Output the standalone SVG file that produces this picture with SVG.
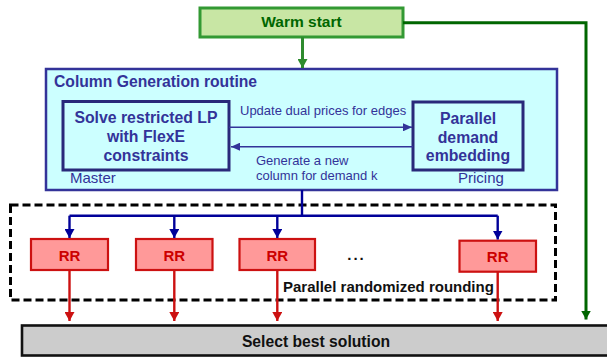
<svg xmlns="http://www.w3.org/2000/svg" width="607" height="358" viewBox="0 0 607 358">
  <style>
    text { font-family: "Liberation Sans", Arial, sans-serif; }
    .bold { font-weight: bold; }
    .cg-text { fill: #333399; }
    .rr-box { fill: #FF9999; stroke: #CC1111; stroke-width: 2.2; }
    .rr-text { fill: #CC0000; font-size: 15px; font-weight: bold; text-anchor: middle; }
    .inner-box { fill: #CCFFFF; stroke: #29297A; stroke-width: 3; }
    .tree { fill: none; stroke: #000099; stroke-width: 2.4; }
    .red-arrow { fill: none; stroke: #CC1111; stroke-width: 2.4; }
    .msg { fill: none; stroke: #333399; stroke-width: 1.6; }
  </style>
  <defs>
    <marker id="ah-green" markerWidth="10" markerHeight="10" refX="9" refY="5" orient="auto" markerUnits="userSpaceOnUse">
      <path d="M0,0 L9,5 L0,10 Z" fill="#2E8B2E"/>
    </marker>
    <marker id="ah-dkgreen" markerWidth="10" markerHeight="10" refX="9" refY="5" orient="auto" markerUnits="userSpaceOnUse">
      <path d="M0,0 L9,5 L0,10 Z" fill="#006600"/>
    </marker>
    <marker id="ah-blue" markerWidth="10" markerHeight="10" refX="9" refY="5" orient="auto" markerUnits="userSpaceOnUse">
      <path d="M0,0 L9,5 L0,10 Z" fill="#000099"/>
    </marker>
    <marker id="ah-red" markerWidth="10" markerHeight="10" refX="9" refY="5" orient="auto" markerUnits="userSpaceOnUse">
      <path d="M0,0 L9,5 L0,10 Z" fill="#CC1111"/>
    </marker>
    <marker id="ah-msg" markerWidth="10" markerHeight="8" refX="9" refY="4" orient="auto" markerUnits="userSpaceOnUse">
      <path d="M0,0 L9,4 L0,8 Z" fill="#333399"/>
    </marker>
  </defs>

  <!-- dashed frame around the rounding stage -->
  <g id="rounding-frame">
    <rect x="10.5" y="205" width="545" height="95" fill="none" stroke="#000" stroke-width="3" stroke-dasharray="8,4"/>
    <text x="283" y="292" font-size="15px" class="bold" fill="#111">Parallel randomized rounding</text>
  </g>

  <!-- warm start -->
  <g id="warm-start">
    <rect x="200" y="8" width="203" height="29" fill="#C8E6A4" stroke="#339933" stroke-width="3"/>
    <text x="301.5" y="27" font-size="15.5px" class="bold" fill="#006600" text-anchor="middle">Warm start</text>
  </g>

  <!-- column generation routine -->
  <g id="column-generation">
    <rect x="46" y="69" width="511" height="121" fill="#CCFFFF" stroke="#333399" stroke-width="2.5"/>
    <text x="54" y="87" font-size="15.7px" class="bold cg-text">Column Generation routine</text>
    <text x="70" y="183" font-size="15px" class="cg-text">Master</text>
    <text x="458" y="183" font-size="15px" class="cg-text">Pricing</text>
  </g>

  <g id="master-lp">
    <rect x="63" y="101.5" width="166" height="68.5" class="inner-box"/>
    <text x="146" y="123" font-size="15.8px" class="bold cg-text" text-anchor="middle">Solve restricted LP</text>
    <text x="146" y="142" font-size="15.8px" class="bold cg-text" text-anchor="middle">with FlexE</text>
    <text x="146" y="160.5" font-size="15.8px" class="bold cg-text" text-anchor="middle">constraints</text>
  </g>

  <g id="pricing">
    <rect x="413" y="102" width="110" height="68" class="inner-box"/>
    <text x="468" y="123.5" font-size="15.8px" class="bold cg-text" text-anchor="middle">Parallel</text>
    <text x="468" y="142.5" font-size="15.8px" class="bold cg-text" text-anchor="middle">demand</text>
    <text x="468" y="161" font-size="15.8px" class="bold cg-text" text-anchor="middle">embedding</text>
  </g>

  <!-- rounding workers -->
  <g id="rr-1">
    <rect x="31" y="239" width="77" height="31" class="rr-box"/>
    <text x="69.5" y="260.5" class="rr-text">RR</text>
  </g>
  <g id="rr-2">
    <rect x="136" y="239" width="76.5" height="31" class="rr-box"/>
    <text x="174.3" y="260.5" class="rr-text">RR</text>
  </g>
  <g id="rr-3">
    <rect x="239.5" y="239" width="75.5" height="31" class="rr-box"/>
    <text x="277.3" y="260.5" class="rr-text">RR</text>
  </g>
  <g id="rr-n">
    <rect x="459.5" y="240.7" width="76.5" height="31" class="rr-box"/>
    <text x="497.7" y="262" class="rr-text">RR</text>
  </g>
  <text x="356.5" y="260" font-size="15px" class="bold" fill="#111" text-anchor="middle" letter-spacing="2">...</text>

  <!-- final selection -->
  <g id="select-best">
    <rect x="22" y="325.5" width="590" height="30" fill="#CCCCCC" stroke="#111" stroke-width="2.6"/>
    <text x="316" y="347" font-size="15.7px" class="bold" fill="#111" text-anchor="middle">Select best solution</text>
  </g>

  <!-- connectors -->
  <g id="connectors">
    <path d="M302.5,37 V68" fill="none" stroke="#2E8B2E" stroke-width="3" marker-end="url(#ah-green)"/>
    <path d="M403,22.7 H586 V319.5" fill="none" stroke="#006600" stroke-width="3" marker-end="url(#ah-dkgreen)"/>

    <path d="M229,127.3 H412" class="msg" marker-end="url(#ah-msg)"/>
    <path d="M413,146.7 H231" class="msg" marker-end="url(#ah-msg)"/>
    <text x="240" y="115" font-size="13px" fill="#333399">Update dual prices for edges</text>
    <text x="256" y="165" font-size="13px" fill="#333399">Generate a new</text>
    <text x="256" y="180" font-size="13px" fill="#333399">column for demand k</text>

    <path d="M302,190 V215.7" class="tree"/>
    <path d="M69.5,215.7 H497.7" class="tree"/>
    <path d="M69.5,215.7 V238" class="tree" marker-end="url(#ah-blue)"/>
    <path d="M174.3,215.7 V238" class="tree" marker-end="url(#ah-blue)"/>
    <path d="M277.3,215.7 V238" class="tree" marker-end="url(#ah-blue)"/>
    <path d="M497.7,215.7 V239.5" class="tree" marker-end="url(#ah-blue)"/>

    <path d="M69.5,270 V321" class="red-arrow" marker-end="url(#ah-red)"/>
    <path d="M174.3,270 V321" class="red-arrow" marker-end="url(#ah-red)"/>
    <path d="M277.3,270 V321" class="red-arrow" marker-end="url(#ah-red)"/>
    <path d="M497.7,271.7 V321" class="red-arrow" marker-end="url(#ah-red)"/>
  </g>
</svg>
